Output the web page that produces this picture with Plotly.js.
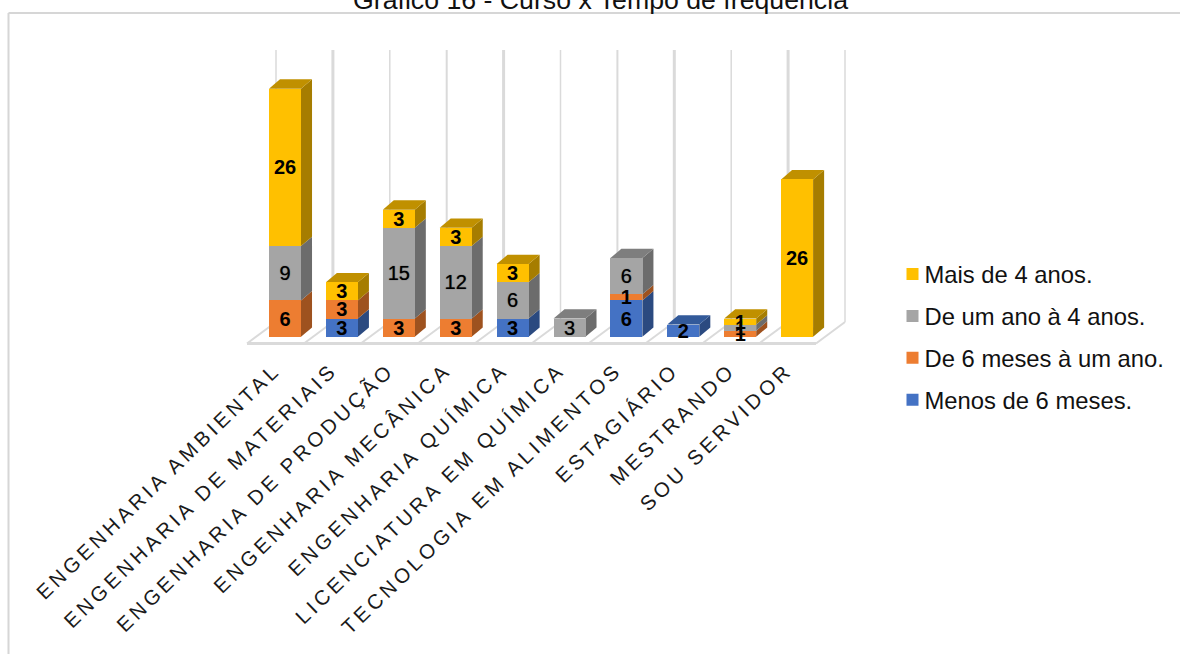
<!DOCTYPE html>
<html>
<head>
<meta charset="utf-8">
<script src="https://cdn.plot.ly/plotly-3.0.1.min.js"></script>
<style>
html,body{margin:0;padding:0;background:#fff;overflow:hidden}
#chart{width:1180px;height:654px}
.xtick text{letter-spacing:3.8px}
.legendtext{transform:translateX(-8px)}
</style>
</head>
<body>
<div id="chart"></div>
<script>
// Students by course and length of attendance
const cursos = ["ENGENHARIA AMBIENTAL","ENGENHARIA DE MATERIAIS","ENGENHARIA DE PRODUÇÃO","ENGENHARIA MECÂNICA","ENGENHARIA QUÍMICA","LICENCIATURA EM QUÍMICA","TECNOLOGIA EM ALIMENTOS","ESTAGIÁRIO","MESTRANDO","SOU SERVIDOR"];
const menos6Meses = [null,3,null,null,3,null,6,2,null,null];
const seisMesesUmAno = [6,3,3,3,null,null,1,null,1,null];
const umQuatroAnos = [9,null,15,12,6,3,6,null,1,null];
const mais4Anos = [26,3,3,3,3,null,null,null,1,26];

const nomes = ["Menos de 6 meses.","De 6 meses à um ano.","De um ano à 4 anos.","Mais de 4 anos."];
const series = [menos6Meses,seisMesesUmAno,umQuatroAnos,mais4Anos];
const frente = ["#4472C4","#ED7D31","#A5A5A5","#FFC000"];
const lado = ["#2B4A80","#9E521F","#6C6C6C","#A67D00"];
const topo = ["#335A9A","#BE6024","#7E7E7E","#C09000"];
const pesos = ["bold","bold","normal","bold"];
const larguraGrade = [1.5,3,1.5,2,3,1.5,2,3,1.5,3,1.5];

// Page layout in pixels and the scale of the two axes
const W = 1180, H = 654;
const box = {l:8, t:13, b:347};
const pxCat = 56.9, pxUn = 6.05, x0Px = 285, y0Px = 336.7;
const dx = 11/pxCat, dy = 9.3/pxUn;
const semi = 16/pxCat;
const xr = [(box.l-x0Px)/pxCat, (W-x0Px)/pxCat];
const yr = [(y0Px-box.b)/pxUn, (y0Px-box.t)/pxUn];
const idx = cursos.map((_,i)=>i);

const poly = pts => "M"+pts.map(p=>p[0].toFixed(3)+","+p[1].toFixed(3)).join("L")+"Z";
const shapes = [];

// Back wall lines and floor lines of the 3D box
const fundoX = i => (276-x0Px)/pxCat + i;
const fundoY = (y0Px-322)/pxUn, frenteY = (y0Px-343.5)/pxUn;
const frenteX = i => (247-x0Px)/pxCat + i;
larguraGrade.forEach((w,i)=>{
  shapes.push({type:"line",layer:"below",xref:"x",yref:"y",x0:fundoX(i),x1:fundoX(i),y0:fundoY,y1:(y0Px-50)/pxUn,line:{color:"#DADADA",width:w}});
  shapes.push({type:"line",layer:"below",xref:"x",yref:"y",x0:frenteX(i),x1:fundoX(i),y0:frenteY,y1:fundoY,line:{color:"#DADADA",width:2}});
});
shapes.push({type:"line",layer:"below",xref:"x",yref:"y",x0:frenteX(0),x1:frenteX(10),y0:frenteY,y1:frenteY,line:{color:"#DADADA",width:3}});

// Side and top faces of each stacked segment
idx.forEach(i=>{
  let base = 0, ult = -1;
  series.forEach((s,k)=>{
    if(s[i]==null) return;
    const t = base + s[i], xd = i+semi;
    shapes.push({type:"path",layer:"below",xref:"x",yref:"y",fillcolor:lado[k],line:{width:0},
      path:poly([[xd,base],[xd+dx,base+dy],[xd+dx,t+dy],[xd,t]])});
    base = t; ult = k;
  });
  const xe = i-semi, xd = i+semi;
  shapes.push({type:"path",layer:"below",xref:"x",yref:"y",fillcolor:topo[ult],line:{width:0},
    path:poly([[xe,base],[xe+dx,base+dy],[xd+dx,base+dy],[xd,base]])});
});

// Chart frame
const pxX = v => (v-box.l)/(W-box.l);
const pxY = v => (box.b-v)/(box.b-box.t);
shapes.push({type:"line",xref:"paper",yref:"paper",x0:pxX(8.5),x1:pxX(8.5),y0:pxY(13),y1:pxY(H),line:{color:"#D6D6D6",width:2}});
shapes.push({type:"line",xref:"paper",yref:"paper",x0:pxX(8.5),x1:pxX(W),y0:pxY(13),y1:pxY(13),line:{color:"#D6D6D6",width:2}});

const barras = series.map((s,k)=>({
  type:"bar",name:nomes[k],x:idx,y:s,width:2*semi,
  marker:{color:frente[k],line:{width:0}},
  legendgroup:nomes[k],legendrank:4-k,hoverinfo:"x+y+name"
}));

// Value labels go in a layer above all the bars so thin segments keep theirs visible
const descidaRotulo = 2/pxUn;
const rotulos = series.map((s,k)=>{
  const meio = s.map((v,i)=>{
    if(v==null) return null;
    let base = 0;
    for(let j=0;j<k;j++) base += series[j][i]||0;
    return base + v/2 - descidaRotulo;
  });
  return {
    type:"scatter",mode:"text",x:idx,y:meio,
    text:s.map(v=>v==null?"":String(v)),textposition:"middle center",cliponaxis:false,
    textfont:{family:"Liberation Sans, Arial, sans-serif",size:20,color:"#000",weight:pesos[k],
      shadow:pesos[k]==="normal"?"0 0 1px rgba(0,0,0,0.7)":"none"},
    showlegend:false,hoverinfo:"skip"
  };
});

Plotly.newPlot("chart",barras.concat(rotulos),{
  width:W,height:H,
  margin:{l:box.l,r:0,t:box.t,b:H-box.b,pad:0},
  paper_bgcolor:"#fff",plot_bgcolor:"#fff",
  barmode:"stack",
  font:{family:"Liberation Sans, Arial, sans-serif",color:"#000"},
  title:{text:"Gráfico 16 - Curso x Tempo de frequência",font:{size:26.7,color:"#111"},xref:"container",yref:"container",x:600.5/W,xanchor:"center",y:(H-9)/H,yanchor:"bottom",pad:{t:0,b:0,l:0,r:0}},
  xaxis:{type:"linear",range:xr,tickmode:"array",tickvals:idx.map(i=>i-0.18),ticktext:cursos,tickangle:-44,showgrid:false,zeroline:false,showline:false,ticks:"outside",ticklen:2,tickcolor:"rgba(0,0,0,0)",tickfont:{size:20.5,color:"#1a1a1a"},automargin:false},
  yaxis:{range:yr,visible:false,showgrid:false,zeroline:false,fixedrange:true},
  shapes:shapes,
  showlegend:true,
  legend:{x:pxX(892.5),y:pxY(252),xanchor:"left",yanchor:"top",traceorder:"grouped",tracegroupgap:8,font:{size:23.8,color:"#111"},bgcolor:"rgba(0,0,0,0)",borderwidth:0}
},{displayModeBar:false,staticPlot:true});
</script>
</body>
</html>
